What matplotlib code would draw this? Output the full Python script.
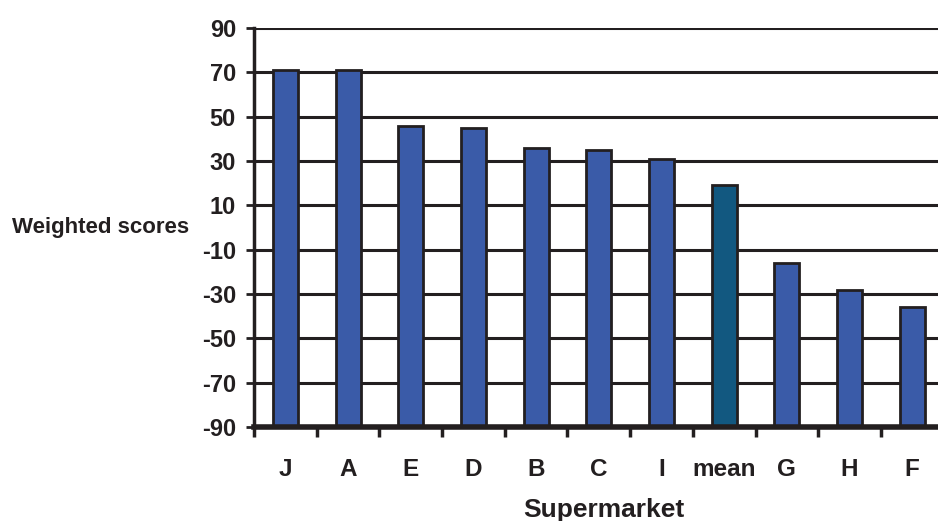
import matplotlib.pyplot as plt
from matplotlib.ticker import FixedLocator

plt.rcParams['font.family'] = ['Liberation Sans', 'DejaVu Sans']
plt.rcParams['font.weight'] = 'bold'

# weighted scores per supermarket, sorted, with the overall mean in between
markets = ['J', 'A', 'E', 'D', 'B', 'C', 'I', 'mean', 'G', 'H', 'F']
scores = [71, 71, 46, 45, 36, 35, 31, 19, -16, -28, -36]
y_ticks = [90, 70, 50, 30, 10, -10, -30, -50, -70, -90]

bar_col = '#3a5ba8'
mean_col = '#125880'
ink = '#231f20'

fig = plt.figure(figsize=(9.38, 5.21), dpi=100)
ax = fig.add_axes([0.2708, 0.1804, 0.7352, 0.7659])

x = list(range(len(markets)))
colors = [mean_col if m == 'mean' else bar_col for m in markets]
base = y_ticks[-1]
ax.bar(x, [s - base for s in scores], bottom=base, width=0.4,
       color=colors, edgecolor=ink, linewidth=2, zorder=3)

ax.set_ylim(-90, 90)
ax.set_xlim(-0.5, len(markets) - 0.5)
ax.set_yticks(y_ticks)
ax.set_yticklabels([str(v) for v in y_ticks])
for v in y_ticks:
    ax.axhline(v, color=ink, linewidth=2.2, zorder=1)

# category labels centred under bars, ticks on the category borders
ax.set_xticks(x)
ax.set_xticklabels(markets)
ax.xaxis.set_minor_locator(FixedLocator([i - 0.5 for i in range(len(markets) + 1)]))
ax.tick_params(axis='x', which='major', length=0, pad=22, labelsize=17.5)
ax.tick_params(axis='x', which='minor', length=7, width=2.5, color=ink, direction='out')
ax.tick_params(axis='y', length=6, width=2, color=ink, direction='out', pad=7, labelsize=17)

for side in ['top', 'right']:
    ax.spines[side].set_visible(False)
ax.spines['left'].set_linewidth(2.5)
ax.spines['left'].set_color(ink)
ax.spines['bottom'].set_linewidth(4)
ax.spines['bottom'].set_color(ink)
ax.spines['bottom'].set_zorder(4)

fig.text(0.644, 0.008, 'Supermarket', fontsize=19, fontweight='bold',
         ha='center', va='baseline', color=ink)
fig.text(0.013, 0.5637, 'Weighted scores', fontsize=16, fontweight='bold',
         ha='left', va='center', color=ink)

for lbl in ax.get_xticklabels() + ax.get_yticklabels():
    lbl.set_color(ink)

fig.savefig('out.png', dpi=100)
